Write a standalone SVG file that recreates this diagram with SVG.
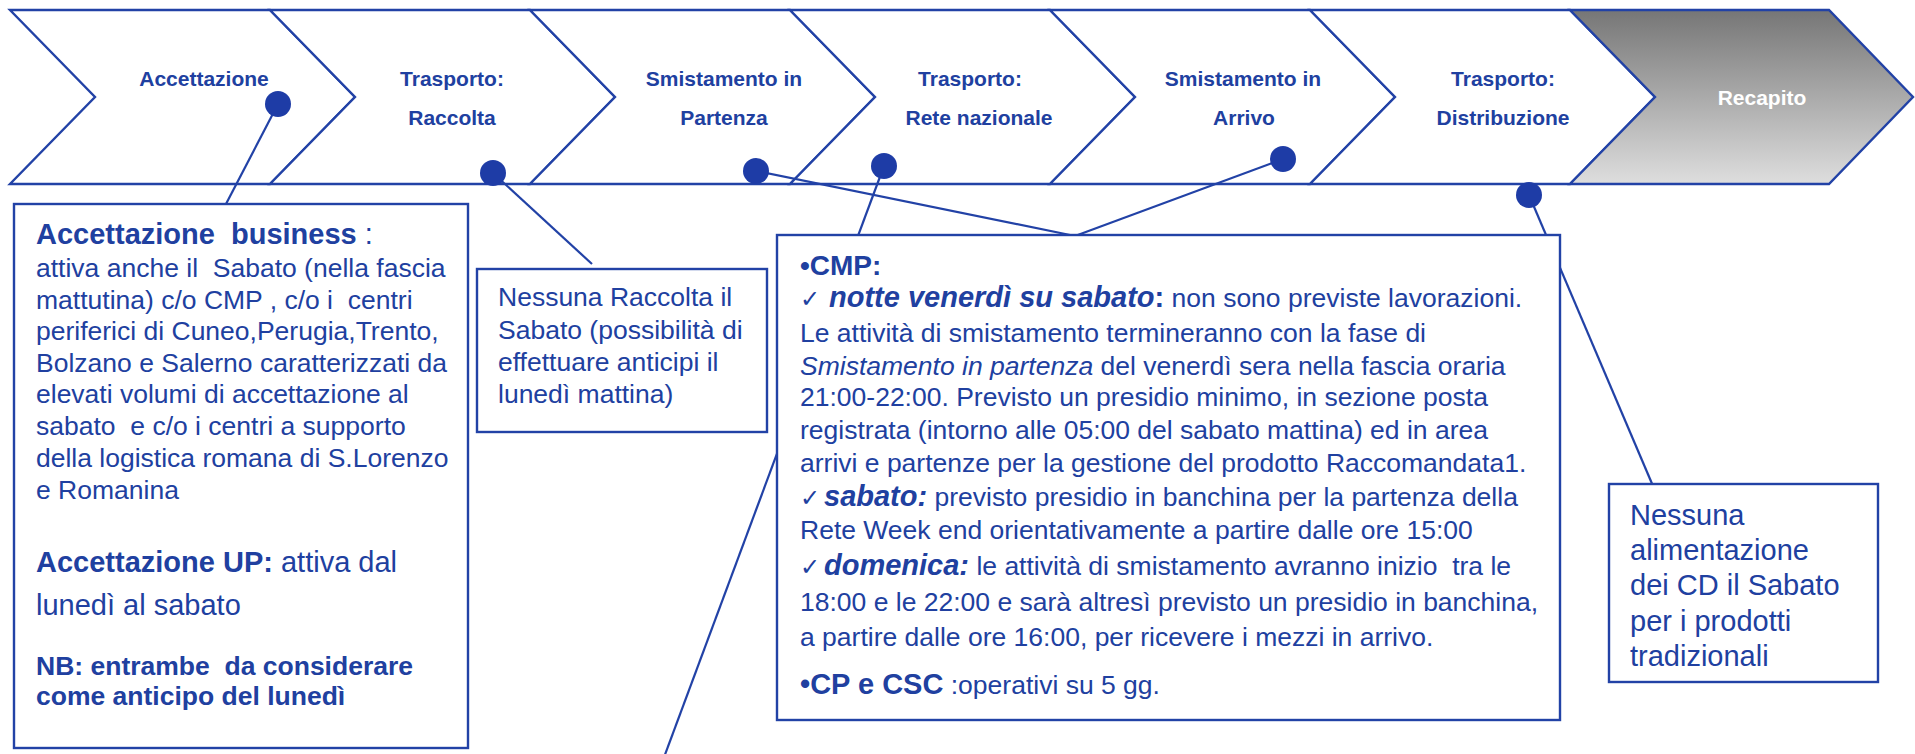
<svg xmlns="http://www.w3.org/2000/svg" width="1915" height="754" viewBox="0 0 1915 754">
<defs>
<linearGradient id="gray" x1="0" y1="0" x2="0" y2="1">
<stop offset="0" stop-color="#767676"/>
<stop offset="1" stop-color="#dedede"/>
</linearGradient>
<style>
.chev{fill:#ffffff;stroke:#2242A6;stroke-width:2.4;stroke-linejoin:miter}
.chevg{fill:url(#gray);stroke:#2242A6;stroke-width:2.4}
.lbl{font-family:'Liberation Sans',Arial,sans-serif;font-weight:bold;font-size:21px;fill:#2040A0;text-anchor:middle}
.lblw{font-family:'Liberation Sans',Arial,sans-serif;font-weight:bold;font-size:21px;fill:#ffffff;text-anchor:middle}
.conn{stroke:#2242A6;stroke-width:2.2;fill:none}
.dot{fill:#1E3CA6}
.box{fill:#ffffff;stroke:#2242A6;stroke-width:2.4}
.t{font-family:'Liberation Sans',Arial,sans-serif;fill:#2040A0;white-space:pre}
.r26{font-size:26.5px}
.r29{font-size:29px}
.b{font-weight:bold}
.bi{font-weight:bold;font-style:italic}
.i{font-style:italic}
.ck{font-family:'DejaVu Sans','Liberation Sans',sans-serif;font-size:24px}
</style>
</defs>

<g id="chevrons">
<g id="chev-accettazione">
<polygon class="chev" points="10,10 270,10 355,97 270,184 10,184 95,97"/>
<text class="lbl" x="204" y="86">Accettazione</text>
</g>
<g id="chev-raccolta">
<polygon class="chev" points="270,10 530,10 615,97 530,184 270,184 355,97"/>
<text class="lbl" x="452" y="86">Trasporto:</text>
<text class="lbl" x="452" y="125">Raccolta</text>
</g>
<g id="chev-partenza">
<polygon class="chev" points="530,10 790,10 875,97 790,184 530,184 615,97"/>
<text class="lbl" x="724" y="86">Smistamento in</text>
<text class="lbl" x="724" y="125">Partenza</text>
</g>
<g id="chev-rete">
<polygon class="chev" points="790,10 1050,10 1135,97 1050,184 790,184 875,97"/>
<text class="lbl" x="970" y="86">Trasporto:</text>
<text class="lbl" x="979" y="125">Rete nazionale</text>
</g>
<g id="chev-arrivo">
<polygon class="chev" points="1050,10 1310,10 1395,97 1310,184 1050,184 1135,97"/>
<text class="lbl" x="1243" y="86">Smistamento in</text>
<text class="lbl" x="1244" y="125">Arrivo</text>
</g>
<g id="chev-distribuzione">
<polygon class="chev" points="1310,10 1570,10 1655,97 1570,184 1310,184 1395,97"/>
<text class="lbl" x="1503" y="86">Trasporto:</text>
<text class="lbl" x="1503" y="125">Distribuzione</text>
</g>
<g id="chev-recapito">
<polygon class="chevg" points="1570,10 1829,10 1913,97 1829,184 1570,184 1655,97"/>
<text class="lblw" x="1762" y="105">Recapito</text>
</g>
</g>

<g id="connectors">
<line class="conn" x1="278" y1="104" x2="226" y2="204"/>
<line class="conn" x1="493" y1="173" x2="592" y2="264"/>
<line class="conn" x1="756" y1="171" x2="1075" y2="236"/>
<line class="conn" x1="1283" y1="159" x2="1075" y2="236"/>
<line class="conn" x1="884" y1="166" x2="663" y2="760"/>
<line class="conn" x1="1529" y1="195" x2="1653" y2="486"/>
<circle class="dot" cx="278" cy="104" r="13"/>
<circle class="dot" cx="493" cy="173" r="13"/>
<circle class="dot" cx="756" cy="171" r="13"/>
<circle class="dot" cx="884" cy="166" r="13"/>
<circle class="dot" cx="1283" cy="159" r="13"/>
<circle class="dot" cx="1529" cy="195" r="13"/>
</g>

<g id="box-accettazione">
<rect class="box" x="14" y="204" width="454" height="544"/>
<text class="t r29" x="36" y="244"><tspan class="b">Accettazione  business</tspan> :</text>
<text class="t r26" x="36" y="277">attiva anche il  Sabato (nella fascia</text>
<text class="t r26" x="36" y="309">mattutina) c/o CMP , c/o i  centri</text>
<text class="t r26" x="36" y="340">periferici di Cuneo,Perugia,Trento,</text>
<text class="t r26" x="36" y="372">Bolzano e Salerno caratterizzati da</text>
<text class="t r26" x="36" y="403">elevati volumi di accettazione al</text>
<text class="t r26" x="36" y="435">sabato  e c/o i centri a supporto</text>
<text class="t r26" x="36" y="467">della logistica romana di S.Lorenzo</text>
<text class="t r26" x="36" y="499">e Romanina</text>
<text class="t r29" x="36" y="572"><tspan class="b">Accettazione UP:</tspan> attiva dal</text>
<text class="t r29" x="36" y="615">lunedì al sabato</text>
<text class="t r26 b" x="36" y="675">NB: entrambe  da considerare</text>
<text class="t r26 b" x="36" y="705">come anticipo del lunedì</text>
</g>

<g id="box-raccolta">
<rect class="box" x="477" y="269" width="290" height="163"/>
<text class="t r26" x="498" y="306">Nessuna Raccolta il</text>
<text class="t r26" x="498" y="339">Sabato (possibilità di</text>
<text class="t r26" x="498" y="371">effettuare anticipi il</text>
<text class="t r26" x="498" y="403">lunedì mattina)</text>
</g>

<g id="box-cmp">
<rect class="box" x="777" y="235" width="783" height="485"/>
<text class="t b" x="800" y="275" font-size="28">•CMP:</text>
<text class="t r26" x="800" y="307"><tspan class="ck">✓</tspan><tspan class="bi" x="829" font-size="29">notte venerdì su sabato</tspan><tspan class="b" font-size="29">:</tspan> non sono previste lavorazioni.</text>
<text class="t r26" x="800" y="342">Le attività di smistamento termineranno con la fase di</text>
<text class="t r26" x="800" y="375"><tspan class="i">Smistamento in partenza</tspan> del venerdì sera nella fascia oraria</text>
<text class="t r26" x="800" y="406">21:00-22:00. Previsto un presidio minimo, in sezione posta</text>
<text class="t r26" x="800" y="439">registrata (intorno alle 05:00 del sabato mattina) ed in area</text>
<text class="t r26" x="800" y="472">arrivi e partenze per la gestione del prodotto Raccomandata1.</text>
<text class="t r26" x="800" y="506"><tspan class="ck">✓</tspan><tspan class="bi" x="824" font-size="29">sabato:</tspan> previsto presidio in banchina per la partenza della</text>
<text class="t r26" x="800" y="539">Rete Week end orientativamente a partire dalle ore 15:00</text>
<text class="t r26" x="800" y="575"><tspan class="ck">✓</tspan><tspan class="bi" x="824" font-size="29">domenica:</tspan> le attività di smistamento avranno inizio  tra le</text>
<text class="t r26" x="800" y="611">18:00 e le 22:00 e sarà altresì previsto un presidio in banchina,</text>
<text class="t r26" x="800" y="646">a partire dalle ore 16:00, per ricevere i mezzi in arrivo.</text>
<text class="t r26" x="800" y="694"><tspan class="b" font-size="29">•CP e CSC</tspan> :operativi su 5 gg.</text>
</g>

<g id="box-alimentazione">
<rect class="box" x="1609" y="484" width="269" height="198"/>
<text class="t r29" x="1630" y="525">Nessuna</text>
<text class="t r29" x="1630" y="560">alimentazione</text>
<text class="t r29" x="1630" y="595">dei CD il Sabato</text>
<text class="t r29" x="1630" y="631">per i prodotti</text>
<text class="t r29" x="1630" y="666">tradizionali</text>
</g>
</svg>
